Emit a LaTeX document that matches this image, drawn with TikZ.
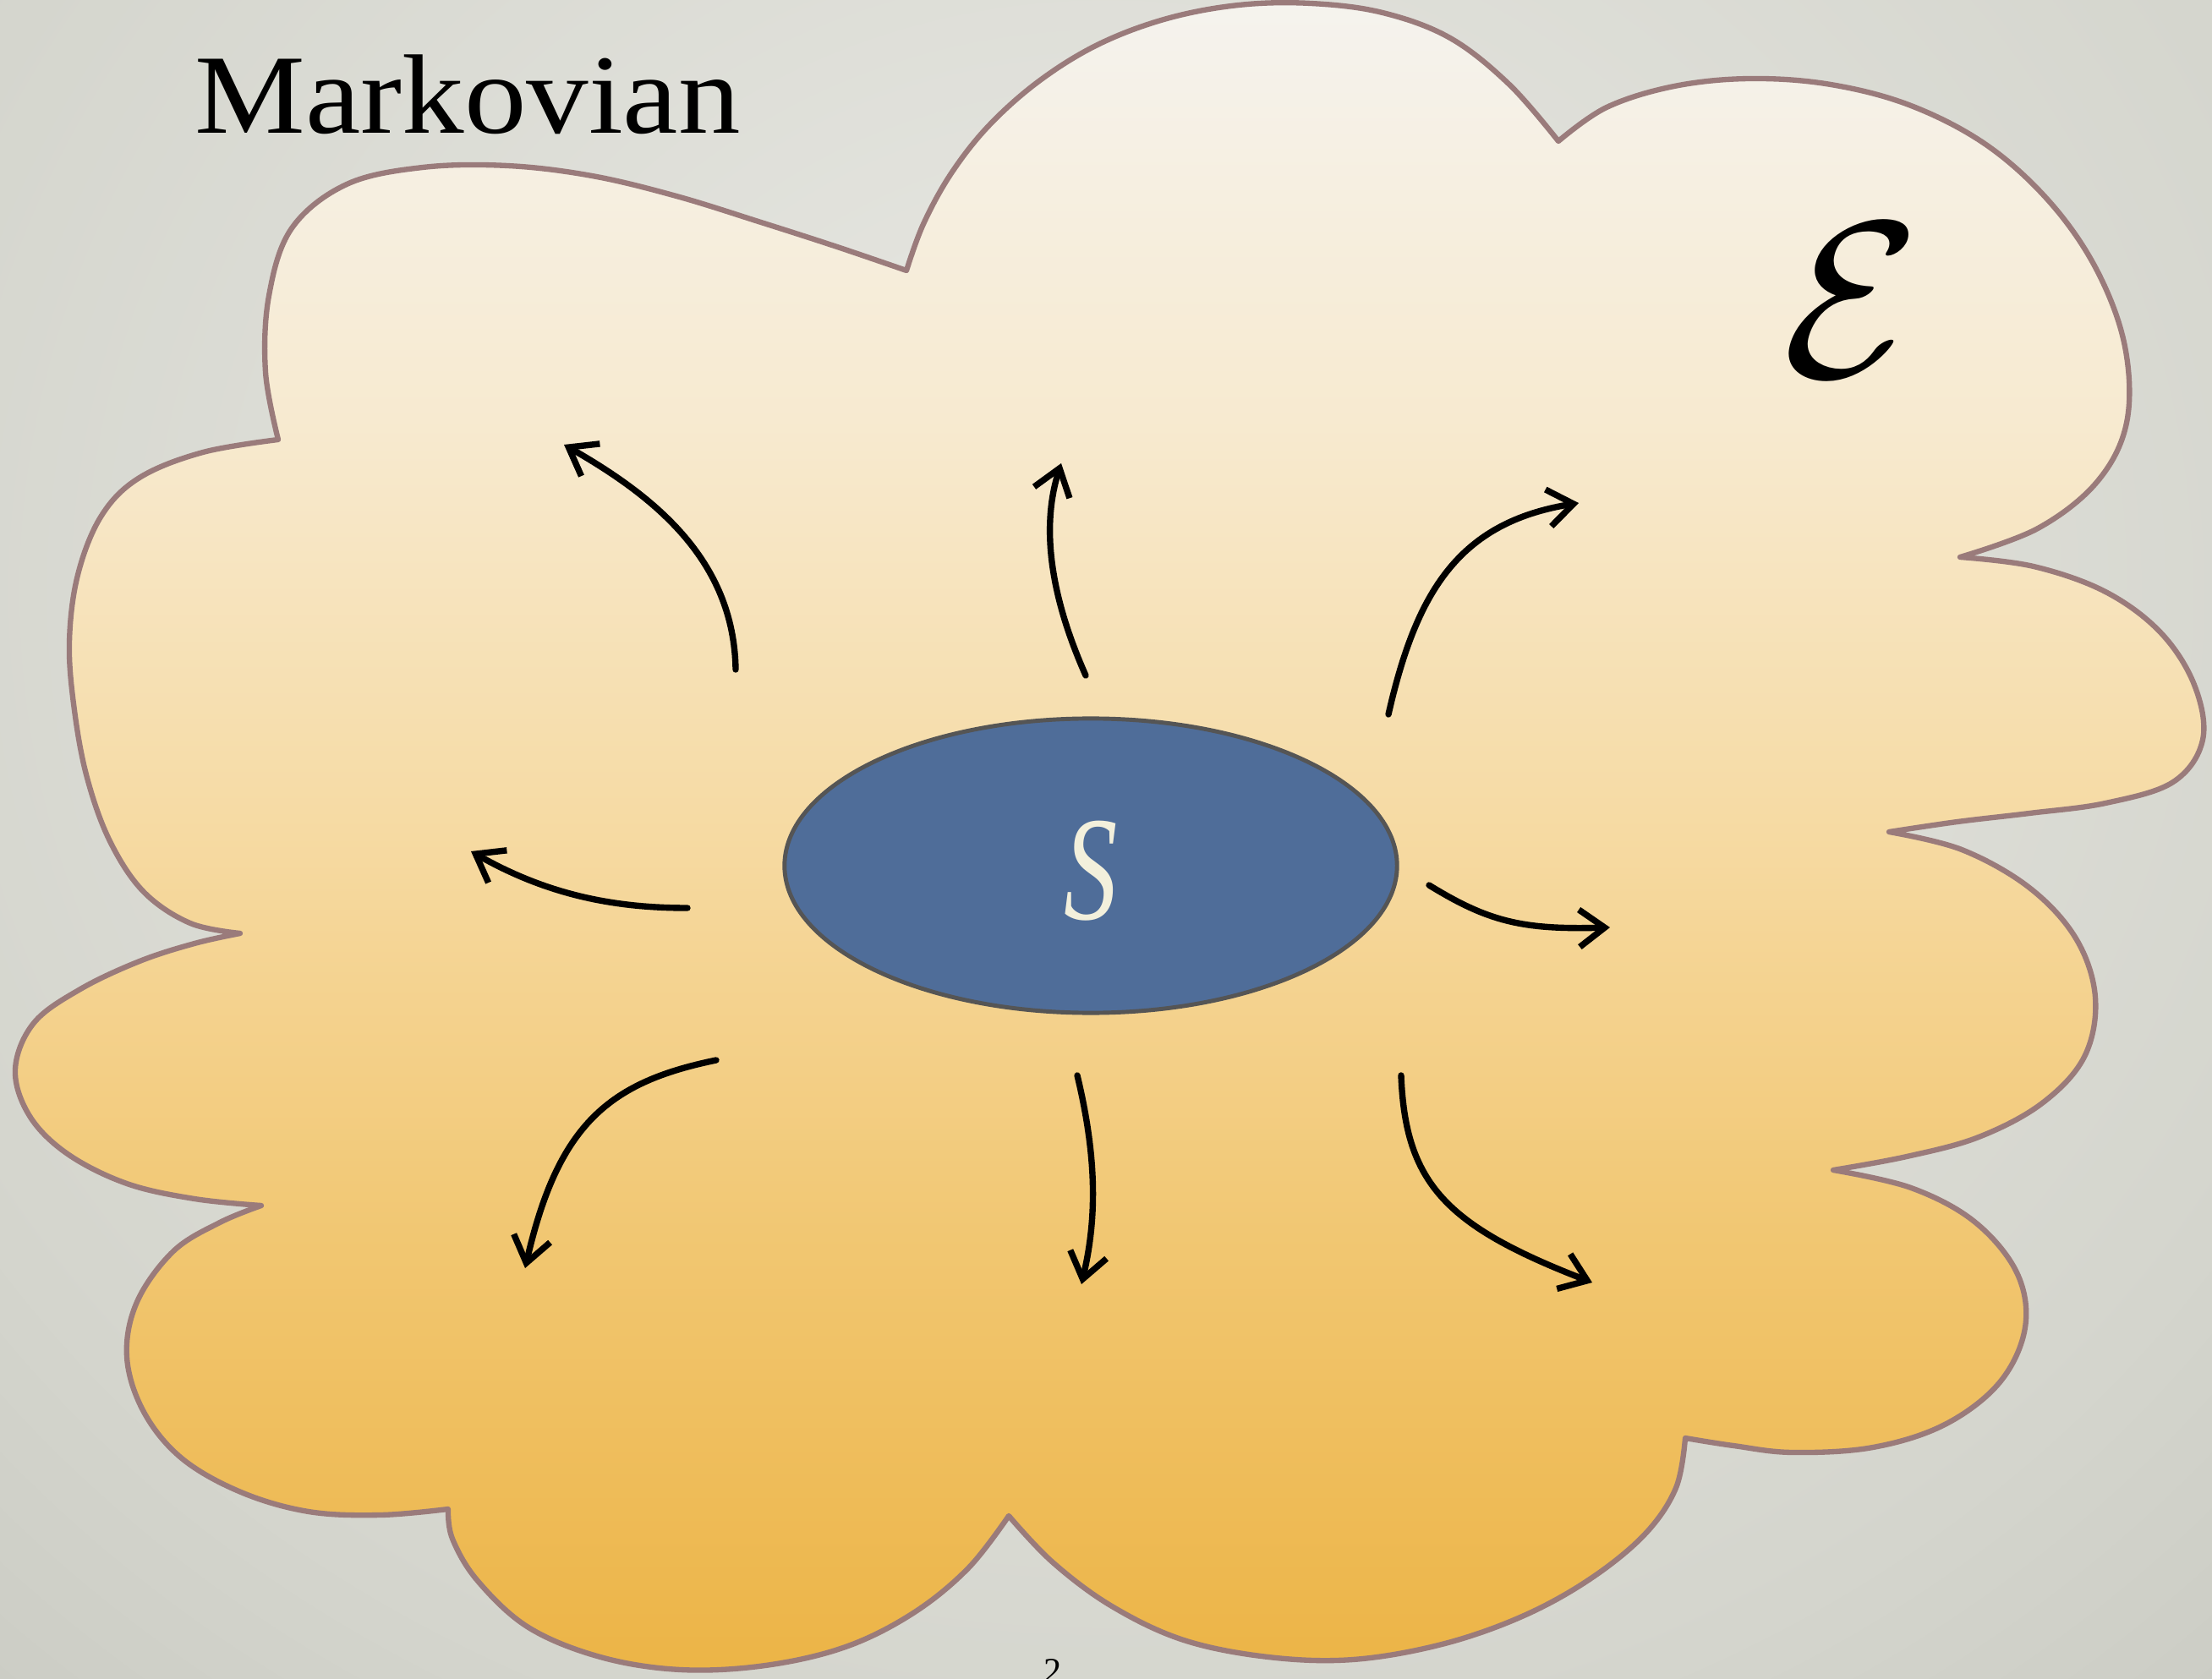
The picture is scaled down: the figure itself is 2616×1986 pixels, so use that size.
\documentclass[tikz,border=0pt]{standalone}
\usepackage{fontspec}
\newfontfamily\titlefont{Liberation Serif}
\usetikzlibrary{arrows.meta,shapes.geometric}
\definecolor{bgin}{HTML}{E9E9E4}
\definecolor{bgmid}{HTML}{D4D5CD}
\definecolor{bgout}{HTML}{C6C7BF}
\definecolor{cb0}{HTML}{ECB446}
\definecolor{cb1}{HTML}{F1C670}
\definecolor{cb2}{HTML}{F6DAA2}
\definecolor{cb3}{HTML}{F7EAD0}
\definecolor{cb4}{HTML}{F5F3EE}
\definecolor{cloudline}{HTML}{9A7B7B}
\definecolor{sysfill}{HTML}{4F6D99}
\definecolor{sysline}{HTML}{555555}
\definecolor{cream}{HTML}{F3F0DC}
\pgfdeclareverticalshading{cloudshade}{100bp}{color(0bp)=(cb0); color(25bp)=(cb0); color(37.5bp)=(cb1); color(50bp)=(cb2); color(62.5bp)=(cb3); color(75bp)=(cb4); color(100bp)=(cb4)}
\pgfdeclareradialshading{bgshade}{\pgfpoint{0bp}{0bp}}{color(0bp)=(bgin); color(25bp)=(bgmid); color(36bp)=(bgout); color(50bp)=(bgout)}
\tikzset{
  flow/.style={-{Straight Barb[length=0.3cm,width=0.44cm]}, line width=2.1pt, black, line cap=round},
  lobe/.style={smooth, tension=0.6}
}
\begin{document}
\begin{tikzpicture}[x=0.01cm,y=-0.01cm]
\useasboundingbox (0,0) rectangle (2616,1986);
\begin{scope}
\clip (0,0) rectangle (2616,1986);
\shade[shading=bgshade] (-250,-700) rectangle (2866,2100);
\end{scope}
% cloud
\shadedraw[shading=cloudshade, draw=cloudline, line width=1.8pt, line join=round]
 (329,520)
 -- plot[lobe] coordinates {(329,520) (314,440) (318,350) (345,270) (410,218) (500,198) (600,196) (700,208) (800,232) (900,263) (990,292) (1072,320)}
 -- plot[lobe] coordinates {(1072,320) (1092,265) (1125,205) (1170,148) (1230,95) (1300,52) (1380,22) (1465,6) (1550,4) (1635,15) (1715,45) (1785,100) (1843,167)}
 -- plot[lobe] coordinates {(1843,167) (1900,127) (1980,102) (2070,93) (2165,100) (2260,125) (2350,172) (2425,240) (2480,320) (2513,410) (2515,500) (2480,570) (2410,625) (2318,659)}
 -- plot[lobe] coordinates {(2318,659) (2405,670) (2490,700) (2555,748) (2595,810) (2605,875) (2570,925) (2490,950) (2400,962) (2315,972) (2234,984)}
 -- plot[lobe] coordinates {(2234,984) (2320,1005) (2400,1050) (2455,1110) (2478,1180) (2465,1250) (2415,1305) (2340,1345) (2255,1368) (2168,1384)}
 -- plot[lobe] coordinates {(2168,1384) (2260,1405) (2335,1445) (2385,1505) (2395,1570) (2365,1635) (2300,1685) (2215,1712) (2120,1718) (2050,1710) (1993,1701)}
 -- plot[lobe] coordinates {(1993,1701) (1982,1760) (1945,1815) (1880,1868) (1800,1912) (1705,1945) (1600,1963) (1500,1960) (1400,1940) (1315,1900) (1245,1848) (1193,1793)}
 -- plot[lobe] coordinates {(1193,1793) (1145,1855) (1080,1908) (1000,1948) (905,1970) (805,1975) (710,1960) (625,1925) (565,1870) (535,1820) (530,1785)}
 -- plot[lobe] coordinates {(530,1785) (450,1792) (365,1788) (285,1765) (215,1725) (170,1670) (150,1605) (162,1540) (205,1480) (260,1446) (309,1426)}
 -- plot[lobe] coordinates {(309,1426) (230,1418) (150,1400) (80,1365) (35,1320) (18,1265) (40,1210) (95,1170) (165,1137) (230,1116) (284,1104)}
 -- plot[lobe] coordinates {(284,1104) (225,1092) (170,1055) (130,995) (103,920) (88,840) (82,760) (92,680) (120,610) (165,565) (240,535) (329,520)}
 -- cycle;
% title and labels
\node[anchor=base west, inner sep=0pt, font=\titlefont\fontsize{38}{40}\selectfont] (title) at (230,158) {\scalebox{1.1}[1]{Markovian}};
\node[inner sep=0pt] (env) at (2190,355) {\resizebox{!}{1.8cm}{$\mathcal{E}$}};
\node[anchor=base, inner sep=0pt, font=\titlefont\fontsize{12}{14}\selectfont] (page) at (1245,1990) {2};
% system
\node[ellipse, draw=sysline, line width=1.4pt, fill=sysfill, minimum width=7.24cm, minimum height=3.48cm, inner sep=0pt] (S) at (1290,1024) {};
\node[inner sep=0pt, text=cream, font=\titlefont\itshape\fontsize{50}{52}\selectfont] (Slabel) at (1290,1030) {\scalebox{0.72}[1]{S}};
% arrow endpoints
\coordinate (a1s) at (870,792);   \coordinate (a1e) at (667,526);
\coordinate (a2s) at (1284,799);  \coordinate (a2e) at (1255,548);
\coordinate (a3s) at (1642,845);  \coordinate (a3e) at (1867,595);
\coordinate (a4s) at (813,1074);  \coordinate (a4e) at (557,1007);
\coordinate (a5s) at (1690,1047); \coordinate (a5e) at (1904,1097);
\coordinate (a6s) at (847,1254);  \coordinate (a6e) at (621,1500);
\coordinate (a7s) at (1274,1272); \coordinate (a7e) at (1279,1519);
\coordinate (a8s) at (1657,1272); \coordinate (a8e) at (1883,1517);
\draw[flow] (a1s) .. controls (868,660) and (770,585) .. (a1e);
\draw[flow] (a2s) .. controls (1240,700) and (1232,620) .. (a2e);
\draw[flow] (a3s) .. controls (1675,700) and (1725,618) .. (a3e);
\draw[flow] (a4s) .. controls (730,1074) and (650,1060) .. (a4e);
\draw[flow] (a5s) .. controls (1760,1090) and (1800,1100) .. (a5e);
\draw[flow] (a6s) .. controls (720,1280) and (660,1330) .. (a6e);
\draw[flow] (a7s) .. controls (1300,1380) and (1295,1450) .. (a7e);
\draw[flow] (a8s) .. controls (1662,1400) and (1710,1450) .. (a8e);
\end{tikzpicture}
\end{document}
